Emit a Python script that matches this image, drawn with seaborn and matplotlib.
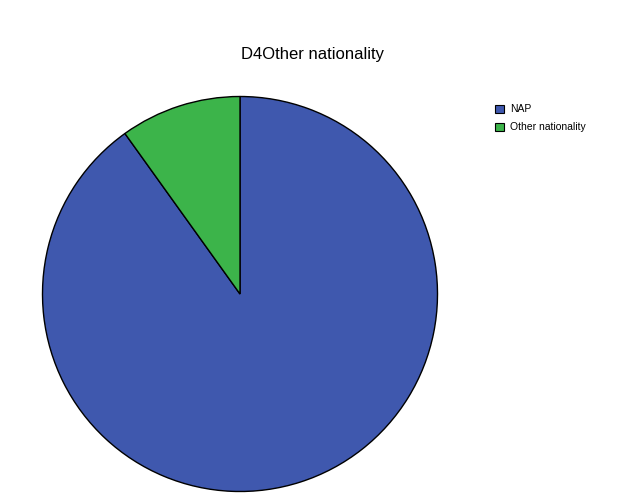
import matplotlib
matplotlib.use("Agg")
import matplotlib.pyplot as plt
import seaborn as sns
from matplotlib.patches import Patch

sns.set_style("white")
plt.rcParams['font.family'] = ['Liberation Sans', 'DejaVu Sans']
plt.rcParams['text.color'] = 'black'

categories = ["NAP", "Other nationality"]
values = [90.1, 9.9]
colors = ["#3f58ae", "#3cb44a"]
title = "D4Other nationality"

fig = plt.figure(figsize=(6.24, 5.0), dpi=100)
ax = fig.add_axes([42.5/624, (500-294-197.5)/500, 395/624, 395/500])
ax.pie(values, colors=colors, startangle=90, counterclock=False,
       wedgeprops=dict(edgecolor="black", linewidth=1.0))
ax.set_xlim(-1.0, 1.0)
ax.set_ylim(-1.0, 1.0)
ax.axis("off")

fig.text(312.5/624, 1 - 54/500, title, ha="center", va="center",
         fontsize=12, color="black")

handles = [Patch(facecolor=c, edgecolor="black", linewidth=0.8) for c in colors]
leg = fig.legend(handles, categories, loc="upper left",
                 bbox_to_anchor=(491/624, 1 - 100/500), frameon=False,
                 fontsize=7.5, handlelength=0.8, handleheight=0.8,
                 handletextpad=0.6, labelspacing=0.8, borderaxespad=0)
for t in leg.get_texts():
    t.set_color("black")

fig.savefig("out.png", dpi=100)
